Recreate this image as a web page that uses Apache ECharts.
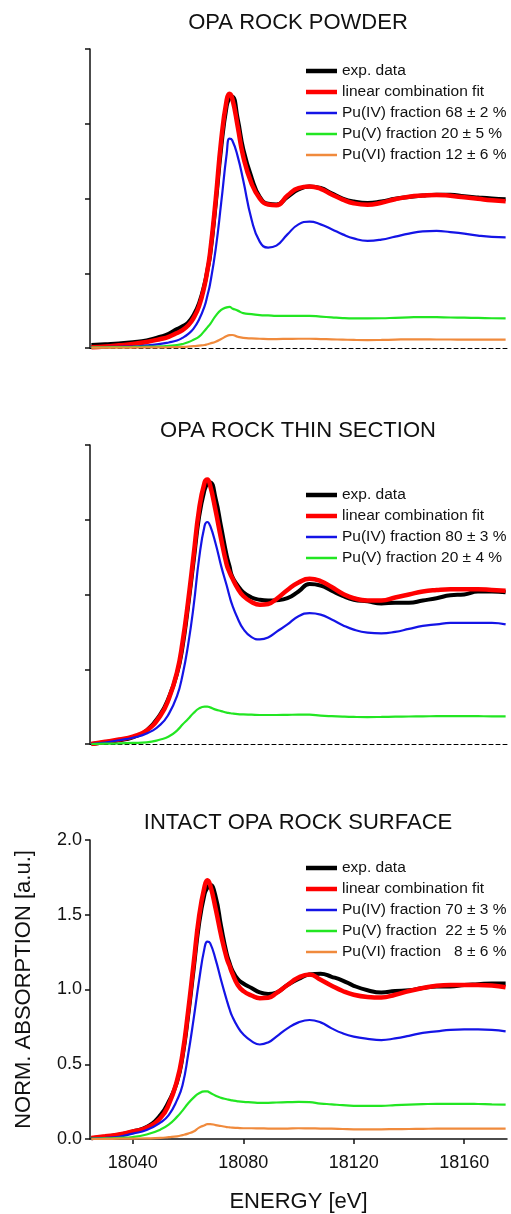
<!DOCTYPE html>
<html>
<head>
<meta charset="utf-8">
<script src="https://cdn.jsdelivr.net/npm/echarts@6/dist/echarts.min.js"></script>
<style>
  html, body { margin: 0; padding: 0; background: #fff; }
  #chart { width: 511px; height: 1214px; }
</style>
</head>
<body>
<div id="chart"></div>
<script>
// energy grid (eV), shared by all three panels
const energy = [18025,18030,18035,18040,18045,18050,18053,18056,18058,18060,18062,18064,18066,18067,18068,18070,18072,18074,18075,18076,18078,18080,18083,18086,18089,18092,18096,18100,18104,18108,18112,18116,18120,18125,18130,18135,18140,18145,18150,18155,18160,18165,18170,18175];

// OPA rock powder
const powderExp = [0.02,0.025,0.03,0.038,0.05,0.075,0.095,0.127,0.145,0.17,0.22,0.30,0.43,0.52,0.62,0.96,1.34,1.62,1.67,1.68,1.53,1.33,1.14,1.01,0.965,0.96,1.01,1.06,1.08,1.07,1.035,1.0,0.98,0.97,0.98,0.998,1.01,1.02,1.025,1.025,1.015,1.007,1.0,0.995];
const powderFit = [0.005,0.01,0.018,0.027,0.04,0.06,0.075,0.10,0.12,0.15,0.20,0.28,0.42,0.52,0.64,0.99,1.39,1.66,1.70,1.67,1.48,1.28,1.10,1.0,0.96,0.955,1.02,1.07,1.08,1.065,1.027,0.993,0.968,0.958,0.972,0.995,1.012,1.02,1.024,1.018,1.008,0.998,0.988,0.982];
const powderPu4 = [0.005,0.006,0.008,0.01,0.017,0.027,0.037,0.05,0.068,0.093,0.13,0.19,0.28,0.35,0.43,0.66,0.97,1.30,1.40,1.39,1.28,1.12,0.86,0.71,0.672,0.685,0.76,0.827,0.845,0.827,0.795,0.76,0.733,0.717,0.725,0.745,0.765,0.78,0.783,0.775,0.765,0.752,0.743,0.74];
const powderPu5 = [0.004,0.005,0.006,0.007,0.009,0.011,0.015,0.02,0.027,0.038,0.055,0.076,0.116,0.138,0.16,0.215,0.255,0.272,0.275,0.265,0.25,0.233,0.227,0.22,0.218,0.215,0.215,0.215,0.215,0.21,0.205,0.20,0.198,0.198,0.199,0.202,0.205,0.207,0.206,0.204,0.203,0.201,0.199,0.198];
const powderPu6 = [0.002,0.002,0.003,0.003,0.004,0.004,0.005,0.006,0.007,0.009,0.012,0.016,0.02,0.025,0.03,0.042,0.06,0.08,0.086,0.087,0.075,0.068,0.064,0.062,0.06,0.06,0.061,0.062,0.062,0.06,0.058,0.056,0.054,0.053,0.054,0.056,0.058,0.058,0.057,0.057,0.056,0.056,0.056,0.056];

// OPA rock thin section
const thinExp = [0.0,0.012,0.025,0.045,0.09,0.20,0.31,0.47,0.65,0.92,1.22,1.52,1.70,1.74,1.75,1.64,1.45,1.26,1.19,1.12,1.06,1.015,0.98,0.965,0.96,0.962,0.975,1.02,1.07,1.06,1.025,0.99,0.965,0.955,0.94,0.945,0.945,0.96,0.975,0.995,1.0,1.02,1.02,1.015];
const thinFit = [0.0,0.015,0.03,0.05,0.09,0.19,0.30,0.48,0.68,0.95,1.26,1.57,1.75,1.77,1.73,1.56,1.37,1.20,1.15,1.11,1.04,0.99,0.95,0.932,0.937,0.97,1.03,1.08,1.105,1.09,1.05,1.005,0.975,0.96,0.96,0.98,1.0,1.02,1.03,1.035,1.035,1.035,1.03,1.025];
const thinPu4 = [0.0,0.01,0.025,0.042,0.07,0.13,0.20,0.32,0.46,0.66,0.92,1.24,1.46,1.485,1.46,1.34,1.19,1.06,0.99,0.93,0.84,0.77,0.715,0.70,0.712,0.75,0.80,0.855,0.875,0.865,0.833,0.795,0.765,0.745,0.74,0.75,0.77,0.79,0.80,0.81,0.81,0.81,0.81,0.80];
const thinPu5 = [0.0,0.002,0.004,0.007,0.011,0.03,0.05,0.09,0.13,0.167,0.207,0.238,0.25,0.25,0.245,0.23,0.22,0.21,0.207,0.204,0.2,0.198,0.196,0.194,0.194,0.194,0.195,0.196,0.196,0.19,0.186,0.183,0.181,0.18,0.181,0.183,0.184,0.185,0.186,0.187,0.187,0.186,0.185,0.185];

// intact OPA rock surface
const intactExp = [0.005,0.015,0.028,0.05,0.08,0.16,0.25,0.38,0.55,0.82,1.13,1.44,1.64,1.68,1.70,1.62,1.42,1.24,1.18,1.13,1.07,1.04,1.01,0.98,0.97,0.98,1.03,1.07,1.10,1.105,1.085,1.06,1.025,0.995,0.98,0.99,0.995,1.01,1.02,1.02,1.03,1.035,1.04,1.04];
const intactFit = [0.007,0.018,0.03,0.05,0.075,0.14,0.23,0.39,0.57,0.85,1.17,1.49,1.69,1.73,1.70,1.54,1.36,1.21,1.16,1.11,1.03,0.99,0.96,0.942,0.945,0.975,1.03,1.08,1.10,1.065,1.025,0.99,0.965,0.95,0.946,0.965,0.99,1.01,1.025,1.03,1.03,1.03,1.027,1.015];
const intactPu4 = [0.002,0.008,0.015,0.036,0.06,0.11,0.16,0.26,0.36,0.56,0.80,1.06,1.28,1.32,1.31,1.20,1.06,0.93,0.87,0.82,0.75,0.70,0.655,0.632,0.646,0.685,0.74,0.78,0.796,0.78,0.74,0.707,0.685,0.67,0.662,0.673,0.69,0.71,0.72,0.73,0.733,0.733,0.73,0.72];
const intactPu5 = [0.002,0.004,0.008,0.013,0.03,0.063,0.096,0.148,0.19,0.237,0.277,0.306,0.318,0.318,0.309,0.289,0.275,0.266,0.262,0.258,0.252,0.248,0.245,0.242,0.242,0.244,0.246,0.248,0.246,0.237,0.232,0.226,0.222,0.221,0.222,0.226,0.23,0.233,0.235,0.235,0.235,0.234,0.232,0.23];
const intactPu6 = [0,0.001,0.002,0.003,0.004,0.007,0.012,0.018,0.026,0.036,0.05,0.076,0.092,0.10,0.10,0.093,0.087,0.08,0.078,0.076,0.074,0.072,0.072,0.071,0.07,0.069,0.07,0.072,0.071,0.07,0.069,0.067,0.065,0.065,0.065,0.066,0.067,0.068,0.069,0.069,0.069,0.069,0.069,0.069];

const titles = ['OPA ROCK POWDER', 'OPA ROCK THIN SECTION', 'INTACT OPA ROCK SURFACE'];
const legendPowder = ['exp. data', 'linear combination fit', 'Pu(IV) fraction 68 ± 2 %', 'Pu(V) fraction 20 ± 5 %', 'Pu(VI) fraction 12 ± 6 %'];
const legendThin = ['exp. data', 'linear combination fit', 'Pu(IV) fraction 80 ± 3 %', 'Pu(V) fraction 20 ± 4 %'];
const legendIntact = ['exp. data', 'linear combination fit', 'Pu(IV) fraction 70 ± 3 %', 'Pu(V) fraction  22 ± 5 %', 'Pu(VI) fraction   8 ± 6 %'];
const xTickValues = [18040, 18080, 18120, 18160];

const FONT = "'Liberation Sans', Arial, sans-serif";
const colors = { exp: '#000000', fit: '#ff0000', pu4: '#1414e6', pu5: '#22e622', pu6: '#f08a3c' };
const gridTops = [49, 445, 840];
const THICK_ICON = 'path://M0,0 L62,0 L62,9 L0,9 Z';
const THIN_ICON = 'path://M0,0 L62,0 L62,5 L0,5 Z';

function line (name, vals, color, width, idx) {
  return {
    type: 'line',
    name: name,
    xAxisIndex: idx,
    yAxisIndex: idx,
    data: energy.map((e, i) => [e, vals[i]]),
    symbol: 'none',
    smooth: 0.5,
    lineStyle: { color: color, width: width },
    itemStyle: { color: color }
  }
}

function panelSeries (idx, names, exp, fit, pu4, pu5, pu6) {
  let list = [
    line(names[0], exp, colors.exp, 4, idx),
    line(names[1], fit, colors.fit, 4.5, idx),
    line(names[2], pu4, colors.pu4, 2.2, idx),
    line(names[3], pu5, colors.pu5, 2.2, idx)
  ];
  if (pu6) list.push(line(names[4], pu6, colors.pu6, 2.2, idx));
  return list;
}

const legendTops = [63, 487, 860];
const legendData = [legendPowder, legendThin, legendIntact];

let option = {
  animation: false,
  backgroundColor: '#fff',
  title: titles.map((t, i) => ({
    text: t,
    left: 298,
    top: [12, 420, 812][i],
    textAlign: 'center',
    padding: 0,
    textStyle: { fontFamily: FONT, fontSize: 22, fontWeight: 'normal', color: '#111' }
  })),
  legend: legendData.map((d, i) => ({
    data: d.map((n, k) => ({ name: n, icon: k < 2 ? THICK_ICON : THIN_ICON })),
    orient: 'vertical',
    left: 306,
    top: legendTops[i],
    padding: 0,
    itemWidth: 31,
    itemHeight: 14,
    itemGap: 5,
    selectedMode: false,
    itemStyle: { borderWidth: 0 },
    textStyle: { fontFamily: FONT, fontSize: 15.5, color: '#111' }
  })),
  grid: gridTops.map(t => ({ left: 90, top: t, width: 417, height: 299 })),
  xAxis: [0, 1, 2].map(i => ({
    type: 'value',
    gridIndex: i,
    min: 18024.5,
    max: 18175.5,
    splitLine: { show: false },
    axisLine: {
      show: true,
      onZero: false,
      lineStyle: i < 2 ? { color: '#000', width: 1, type: [4, 3] } : { color: '#111', width: 1.5 }
    },
    axisTick: { show: i === 2, length: 5, customValues: xTickValues, lineStyle: { color: '#111', width: 1.5 } },
    axisLabel: {
      show: i === 2,
      customValues: xTickValues,
      margin: 15,
      fontFamily: FONT,
      fontSize: 18,
      color: '#111',
      formatter: v => String(v)
    },
    name: i === 2 ? 'ENERGY [eV]' : '',
    nameLocation: 'middle',
    nameGap: 52,
    nameTextStyle: { fontFamily: FONT, fontSize: 22, color: '#111' }
  })),
  yAxis: [0, 1, 2].map(i => ({
    type: 'value',
    gridIndex: i,
    min: 0,
    max: 2,
    interval: 0.5,
    splitLine: { show: false },
    axisLine: { show: true, lineStyle: { color: '#111', width: 1.5 } },
    axisTick: { show: true, length: 5, lineStyle: { color: '#111', width: 1.5 } },
    axisLabel: {
      show: i === 2,
      margin: 8,
      fontFamily: FONT,
      fontSize: 18,
      color: '#111',
      formatter: v => v.toFixed(1)
    },
    name: i === 2 ? 'NORM. ABSORPTION [a.u.]' : '',
    nameLocation: 'middle',
    nameGap: 55,
    nameTextStyle: { fontFamily: FONT, fontSize: 22, color: '#111' }
  })),
  series: [].concat(
    panelSeries(0, legendPowder, powderExp, powderFit, powderPu4, powderPu5, powderPu6),
    panelSeries(1, legendThin, thinExp, thinFit, thinPu4, thinPu5, null),
    panelSeries(2, legendIntact, intactExp, intactFit, intactPu4, intactPu5, intactPu6)
  )
};

let chart = echarts.init(document.getElementById('chart'), null, { renderer: 'canvas' });
chart.setOption(option);
</script>
</body>
</html>
